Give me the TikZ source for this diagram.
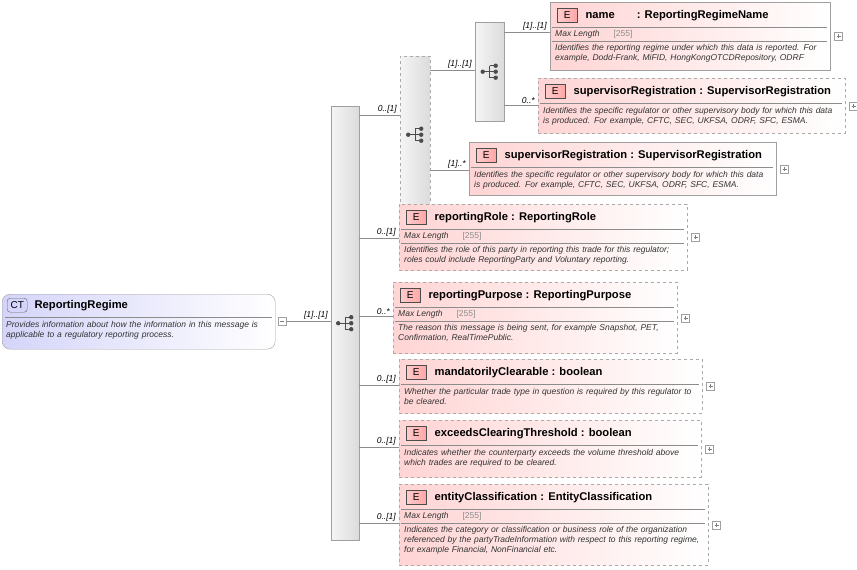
\documentclass[tikz,border=0pt]{standalone}
\usepackage{fontspec}
\setmainfont{Liberation Sans}
\usetikzlibrary{calc}
\definecolor{elpink}{RGB}{255,212,212}
\definecolor{ctblue}{RGB}{212,212,250}
\definecolor{frame}{RGB}{160,160,160}
\tikzset{
  elbox/.style={draw=frame, left color=elpink, right color=white, inner sep=0pt},
  opt/.style={dashed, draw=frame!90},
  badge/.style={draw=black!70, left color=red!20, right color=red!35, minimum width=20pt, minimum height=14pt, inner sep=0pt, font=\fontsize{10}{11}\selectfont},
  ttl/.style={font=\bfseries\fontsize{11.2}{12}\selectfont, inner sep=0pt},
  desc/.style={font=\itshape\fontsize{8.5}{10}\selectfont, inner sep=0pt, align=left, text=black!80},
  sep/.style={draw=black!45, line width=0.6pt},
  plus/.style={draw=frame, fill=white, minimum size=8pt, inner sep=0pt},
  grp/.style={draw=frame, left color=black!4, right color=black!14, inner sep=0pt},
  conn/.style={draw=black!45, line width=0.6pt},
  card/.style={font=\itshape\fontsize{8.5}{9}\selectfont, inner sep=1pt, anchor=south east, xshift=-2pt},
}
% element box: id, x, y, w, h, title, has max length, description, extra style
\newcommand\element[9]{%
  \node[elbox,#9,minimum width=#4pt,minimum height=#5pt,anchor=north west] (#1) at (#2,#3) {};
  \node[badge,anchor=north west] (#1b) at ([shift={(7pt,-6pt)}]#1.north west) {E};
  \node[ttl,anchor=west] at ([xshift=8pt]#1b.east) {#6};
  \draw[sep] ([shift={(2pt,-25pt)}]#1.north west) -- ([shift={(-3pt,-25pt)}]#1.north east);
  \ifnum#7=1
    \node[desc,anchor=west] at ([shift={(5pt,-32pt)}]#1.north west) {Max Length\hspace{14pt}{\upshape\color{black!45}[255]}};
    \draw[sep] ([shift={(2pt,-39pt)}]#1.north west) -- ([shift={(-3pt,-39pt)}]#1.north east);
    \node[desc,anchor=north west,text width={#4pt-12pt}] at ([shift={(5pt,-42pt)}]#1.north west) {#8};
  \else
    \node[desc,anchor=north west,text width={#4pt-12pt}] at ([shift={(5pt,-29pt)}]#1.north west) {#8};
  \fi
  \node[plus,anchor=west] (#1p) at ([xshift=4pt]#1.east) {};
  \draw[black!50] ([xshift=-2pt]#1p.center) -- ([xshift=2pt]#1p.center) ([yshift=-2pt]#1p.center) -- ([yshift=2pt]#1p.center);
}
% compositor icon
\newcommand\compicon[1]{%
  \fill[black!70] ($(#1)+(-7pt,0)$) circle (2.2pt);
  \draw[black!70,line width=1pt] ($(#1)+(-7pt,0)$) -- ($(#1)+(0,0)$) ($(#1)+(0,6pt)$) -- ($(#1)+(0,-6pt)$)
    ($(#1)+(0,6pt)$) -- ($(#1)+(5pt,6pt)$) ($(#1)+(0,-6pt)$) -- ($(#1)+(5pt,-6pt)$) ($(#1)+(0,0)$) -- ($(#1)+(5pt,0)$);
  \foreach \dy in {6,0,-6} \fill[black!70] ($(#1)+(6pt,\dy pt)$) circle (2.2pt);
}
\begin{document}
\hyphenpenalty=10000 \exhyphenpenalty=10000
\begin{tikzpicture}[x=1pt,y=-1pt]
\useasboundingbox[fill=white] (0,0) rectangle (857,570);

% complex type
\node[draw=frame, rounded corners=8pt, left color=ctblue, right color=white, minimum width=273pt, minimum height=55pt, anchor=north west] (ct) at (2,294) {};
\node[draw=black!60, rounded corners=3pt, left color=ctblue!70!blue!40, right color=ctblue, minimum width=20pt, minimum height=14pt, inner sep=0pt, font=\fontsize{10}{11}\selectfont, anchor=north west] (ctb) at (7,298) {CT};
\node[ttl,anchor=west] at ([xshift=7pt]ctb.east) {ReportingRegime};
\draw[sep] (5,317) -- (272,317);
\node[desc,anchor=north west,text width=268pt] at (6,321) {Provides information about how the information in this message is applicable to a regulatory reporting process.};
\node[plus] (ctm) at (282,321) {};
\draw[black!50] (280,321) -- (284,321);

% compositors
\node[grp, minimum width=28pt, minimum height=434pt, anchor=north west] (seq) at (331,106) {};
\node[grp, opt, minimum width=30pt, minimum height=157pt, anchor=north west] (ch) at (400,56) {};
\node[grp, minimum width=29pt, minimum height=99pt, anchor=north west] (inseq) at (475,22) {};
\compicon{seq.center}
\compicon{ch.center}
\compicon{inseq.center}

% elements
\element{nm}{550}{2}{280}{68}{name\hspace{22pt}: ReportingRegimeName}{1}{Identifies the reporting regime under which this data is reported. For example, Dodd-Frank, MiFID, HongKongOTCDRepository, ODRF}{}
\element{sra}{538}{78}{307}{55}{supervisorRegistration : SupervisorRegistration}{0}{Identifies the specific regulator or other supervisory body for which this data is produced. For example, CFTC, SEC, UKFSA, ODRF, SFC, ESMA.}{opt}
\element{srb}{469}{142}{307}{53}{supervisorRegistration : SupervisorRegistration}{0}{Identifies the specific regulator or other supervisory body for which this data is produced. For example, CFTC, SEC, UKFSA, ODRF, SFC, ESMA.}{}
\element{role}{399}{204}{288}{66}{reportingRole : ReportingRole}{1}{Identifies the role of this party in reporting this trade for this regulator; roles could include ReportingParty and Voluntary reporting.}{opt}
\element{purp}{393}{282}{284}{71}{reportingPurpose : ReportingPurpose}{1}{The reason this message is being sent, for example Snapshot, PET, Confirmation, RealTimePublic.}{opt}
\element{mand}{399}{359}{303}{54}{mandatorilyClearable : boolean}{0}{Whether the particular trade type in question is required by this regulator to be cleared.}{opt}
\element{exc}{399}{420}{302}{57}{exceedsClearingThreshold : boolean}{0}{Indicates whether the counterparty exceeds the volume threshold above which trades are required to be cleared.}{opt}
\element{ent}{399}{484}{309}{81}{entityClassification : EntityClassification}{1}{Indicates the category or classification or business role of the organization referenced by the partyTradeInformation with respect to this reporting regime, for example Financial, NonFinancial etc.}{opt}

% connectors
\draw[conn] (ctm.east) -- (seq.west |- ctm.east) node[card] {[1]..[1]};
\draw[conn] (seq.east |- 0,115) -- (ch.west |- 0,115) node[card] {0..[1]};
\draw[conn] (ch.east |- 0,70) -- (inseq.west |- 0,70) node[card] {[1]..[1]};
\draw[conn] (inseq.east |- 0,32) -- (nm.west |- 0,32) node[card] {[1]..[1]};
\draw[conn] (inseq.east |- 0,105) -- (sra.west |- 0,105) node[card] {0..*};
\draw[conn] (ch.east |- 0,170) -- (srb.west |- 0,170) node[card] {[1]..*};
\draw[conn] (seq.east |- 0,238) -- (role.west |- 0,238) node[card] {0..[1]};
\draw[conn] (seq.east |- 0,316) -- (purp.west |- 0,316) node[card] {0..*};
\draw[conn] (seq.east |- 0,385) -- (mand.west |- 0,385) node[card] {0..[1]};
\draw[conn] (seq.east |- 0,447) -- (exc.west |- 0,447) node[card] {0..[1]};
\draw[conn] (seq.east |- 0,523) -- (ent.west |- 0,523) node[card] {0..[1]};
\end{tikzpicture}
\end{document}
